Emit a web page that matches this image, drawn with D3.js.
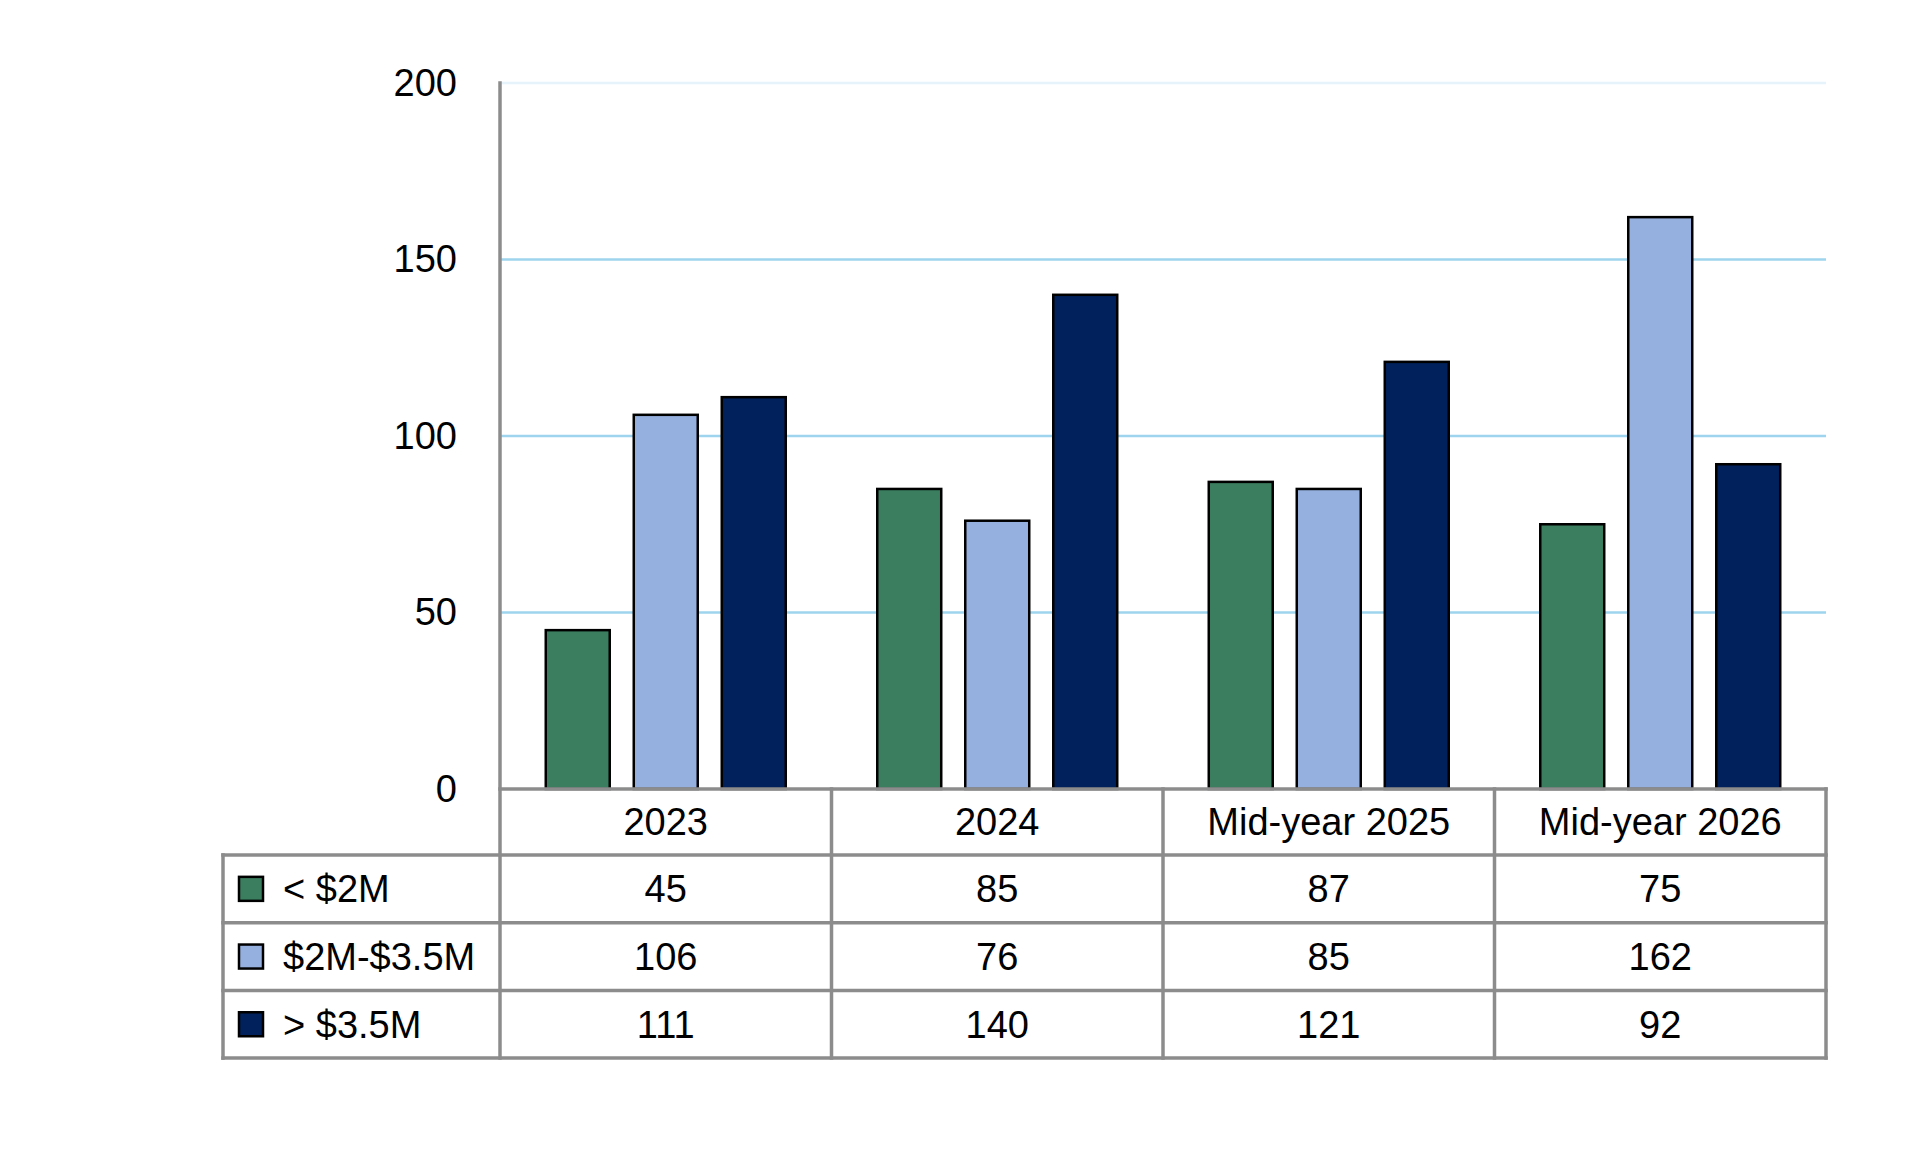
<!DOCTYPE html>
<html>
<head>
<meta charset="utf-8">
<script src="https://cdn.jsdelivr.net/npm/d3@7"></script>
<style>
  body { margin: 0; background: #fff; }
  text { font-family: "Liberation Sans", Arial, sans-serif; fill: #000; }
</style>
</head>
<body>
<div id="chart"></div>
<script>
// data
var categories = ["2023", "2024", "Mid-year 2025", "Mid-year 2026"];
var series = ["< $2M", "$2M-$3.5M", "> $3.5M"];
var under2M = [45, 85, 87, 75];
var mid2to35M = [106, 76, 85, 162];
var over35M = [111, 140, 121, 92];
var seriesColors = ["#3b7d5f", "#95b0de", "#00215b"];
var yTicks = [0, 50, 100, 150, 200];

var values = [under2M, mid2to35M, over35M];

var W = 1920, H = 1176;
// note: "top" is taken by window.top, so plot edges get their own names
var plotLeft = 500, plotRight = 1826, plotTop = 83, plotBase = 789;
var legendLeft = 223;
var catH = 66, rowH = 67.7;
var gridGray = "#8c8c8c";

var svg = d3.select("#chart")
  .append("svg")
  .attr("width", W)
  .attr("height", H);

var x0 = d3.scaleBand()
  .domain(categories)
  .range([plotLeft, plotRight]);

var x1 = d3.scaleBand()
  .domain(series)
  .range([0, x0.bandwidth()])
  .paddingInner(0.273)
  .paddingOuter(0.52);

var y = d3.scaleLinear()
  .domain([0, 200])
  .range([plotBase, plotTop]);

// gridlines
svg.append("g")
  .selectAll("line")
  .data(yTicks.filter(function(d) { return d > 0; }))
  .enter()
  .append("line")
  .attr("x1", plotLeft)
  .attr("x2", plotRight)
  .attr("y1", function(d) { return y(d); })
  .attr("y2", function(d) { return y(d); })
  .attr("stroke", function(d) { return d == 200 ? "#e6f3fb" : "#9fd4ee"; })
  .attr("stroke-width", 2.5);

// bars
var rows = [];
categories.forEach(function(c, i) {
  series.forEach(function(s, j) {
    rows.push({ cat: c, ser: s, value: values[j][i], color: seriesColors[j] });
  });
});

svg.append("g")
  .selectAll("rect")
  .data(rows)
  .enter()
  .append("rect")
  .attr("x", function(d) { return x0(d.cat) + x1(d.ser); })
  .attr("y", function(d) { return y(d.value); })
  .attr("width", x1.bandwidth())
  .attr("height", function(d) { return y(0) - y(d.value); })
  .attr("fill", function(d) { return d.color; })
  .attr("stroke", "#000")
  .attr("stroke-width", 2.5);

// y axis labels
var yAxis = d3.axisLeft(y)
  .tickValues(yTicks)
  .tickSize(0)
  .tickPadding(43)
  .tickFormat(d3.format("d"));

var gy = svg.append("g")
  .attr("transform", "translate(" + plotLeft + ",0)")
  .call(yAxis);
gy.select(".domain").remove();
gy.selectAll("text")
  .attr("font-size", 38)
  .attr("font-family", "Liberation Sans, Arial, sans-serif")
  .attr("fill", "#000");

// data table
var tableTop = plotBase + catH;
var tableBottom = tableTop + rowH * series.length;
var table = svg.append("g")
  .attr("stroke", gridGray)
  .attr("stroke-width", 3.5)
  .attr("stroke-linecap", "square");

// axis line, runs down into the table
table.append("line")
  .attr("x1", plotLeft).attr("x2", plotLeft)
  .attr("y1", plotTop).attr("y2", tableBottom);

// baseline / top of category row
table.append("line")
  .attr("x1", plotLeft).attr("x2", plotRight)
  .attr("y1", plotBase).attr("y2", plotBase);

// horizontal rules of the data rows
table.selectAll(".hrule")
  .data(d3.range(series.length + 1))
  .enter()
  .append("line")
  .attr("x1", legendLeft).attr("x2", plotRight)
  .attr("y1", function(i) { return tableTop + i * rowH; })
  .attr("y2", function(i) { return tableTop + i * rowH; });

// vertical rules
table.append("line")
  .attr("x1", legendLeft).attr("x2", legendLeft)
  .attr("y1", tableTop).attr("y2", tableBottom);

table.selectAll(".vrule")
  .data(categories)
  .enter()
  .append("line")
  .attr("x1", function(c) { return x0(c) + x0.bandwidth(); })
  .attr("x2", function(c) { return x0(c) + x0.bandwidth(); })
  .attr("y1", plotBase).attr("y2", tableBottom);

// category labels
svg.append("g")
  .selectAll("text")
  .data(categories)
  .enter()
  .append("text")
  .attr("x", function(c) { return x0(c) + x0.bandwidth() / 2; })
  .attr("y", plotBase + catH / 2)
  .attr("dy", "0.35em")
  .attr("text-anchor", "middle")
  .attr("font-size", 38)
  .text(function(c) { return c; });

// legend column
var legend = svg.append("g")
  .selectAll("g")
  .data(series)
  .enter()
  .append("g")
  .attr("transform", function(s, j) {
    return "translate(0," + (tableTop + j * rowH + rowH / 2) + ")";
  });

legend.append("rect")
  .attr("x", 239)
  .attr("y", -12)
  .attr("width", 24)
  .attr("height", 24)
  .attr("fill", function(s, j) { return seriesColors[j]; })
  .attr("stroke", "#000")
  .attr("stroke-width", 2.5);

legend.append("text")
  .attr("x", 283)
  .attr("dy", "0.35em")
  .attr("font-size", 38)
  .text(function(s) { return s; });

// values in the table
svg.append("g")
  .selectAll("text")
  .data(rows)
  .enter()
  .append("text")
  .attr("x", function(d) { return x0(d.cat) + x0.bandwidth() / 2; })
  .attr("y", function(d) { return tableTop + series.indexOf(d.ser) * rowH + rowH / 2; })
  .attr("dy", "0.35em")
  .attr("text-anchor", "middle")
  .attr("font-size", 38)
  .text(function(d) { return d.value; });
</script>
</body>
</html>
